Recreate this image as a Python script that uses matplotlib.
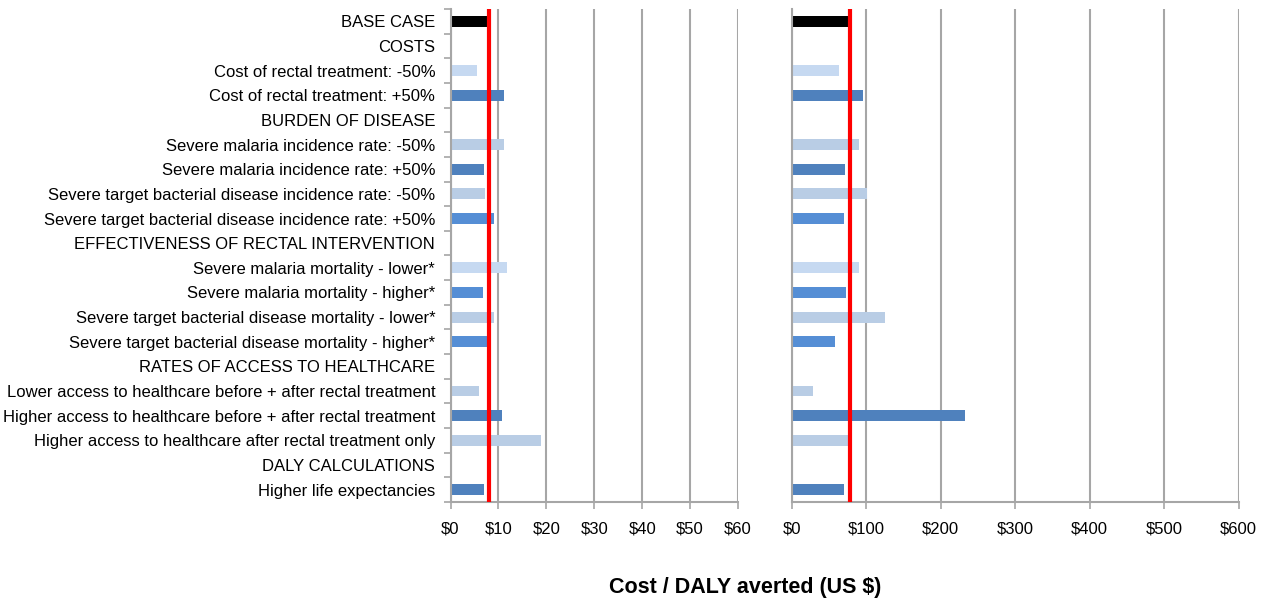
import numpy as np
import matplotlib.pyplot as plt

plt.rcParams['font.family'] = ['Liberation Sans', 'DejaVu Sans']

# 行标签（从上到下）
labels = [
    "BASE CASE",
    "COSTS",
    "Cost of rectal treatment: -50%",
    "Cost of rectal treatment: +50%",
    "BURDEN OF DISEASE",
    "Severe malaria incidence rate: -50%",
    "Severe malaria incidence rate: +50%",
    "Severe target bacterial disease incidence rate: -50%",
    "Severe target bacterial disease incidence rate: +50%",
    "EFFECTIVENESS OF RECTAL INTERVENTION",
    "Severe malaria mortality - lower*",
    "Severe malaria mortality - higher*",
    "Severe target bacterial disease mortality - lower*",
    "Severe target bacterial disease mortality - higher*",
    "RATES OF ACCESS TO HEALTHCARE",
    "Lower access to healthcare before + after rectal treatment",
    "Higher access to healthcare before + after rectal treatment",
    "Higher access to healthcare after rectal treatment only",
    "DALY CALCULATIONS",
    "Higher life expectancies",
]

# 左图与右图的数值（None 表示标题行，无柱）
left_vals = [8.1, None, 5.5, 11.2, None, 11.2, 6.9, 7.1, 9.1, None,
             11.7, 6.8, 9.1, 7.6, None, 6.0, 10.8, 18.9, None, 6.9]
right_vals = [78, None, 63, 96, None, 90, 71, 101, 70, None,
              91, 72.5, 125, 58, None, 28, 232, 77, None, 70.5]

base_left = 8.1
base_right = 78

# 颜色
c_black = "#000000"
c_pale = "#c6d9f1"
c_grey = "#b9cde5"
c_dark = "#4f81bd"
c_mid = "#558ed5"
colors = [c_black, None, c_pale, c_dark, None, c_grey, c_dark, c_grey, c_mid, None,
          c_pale, c_mid, c_grey, c_mid, None, c_grey, c_dark, c_grey, None, c_dark]

left_ticks = [0, 10, 20, 30, 40, 50, 60]
right_ticks = [0, 100, 200, 300, 400, 500, 600]

fig = plt.figure(figsize=(12.64, 5.99), dpi=100)
ax1 = fig.add_axes([450.5 / 1264, 97 / 599, 287.5 / 1264, 493 / 599])
ax2 = fig.add_axes([791.7 / 1264, 97 / 599, 447 / 1264, 493 / 599])

grid_c = "#a6a6a6"
n = len(labels)
y = np.arange(n)


def draw(ax, vals, ticks, base):
    for i, v in enumerate(vals):
        if v is None:
            continue
        ax.barh(y[i], v, height=0.44, color=colors[i], zorder=2)
    ax.set_xlim(ticks[0], ticks[-1])
    ax.set_ylim(n - 0.5, -0.5)
    ax.set_xticks(ticks)
    ax.set_xticklabels(["$%d" % t for t in ticks], fontsize=12)
    ax.xaxis.grid(True, color=grid_c, linewidth=1.5, zorder=0)
    ax.set_axisbelow(True)
    ax.axvline(base, color="#ff0000", linewidth=3, zorder=3)
    for s in ["top", "right"]:
        ax.spines[s].set_visible(False)
    for s in ["left", "bottom"]:
        ax.spines[s].set_color(grid_c)
        ax.spines[s].set_linewidth(1.5)
    ax.tick_params(axis="x", color=grid_c, length=5, width=1.2, pad=9)


draw(ax1, left_vals, left_ticks, base_left)
draw(ax2, right_vals, right_ticks, base_right)

# 左图：分隔刻度 + 行标签
ax1.set_yticks(np.arange(-0.5, n, 1.0))
ax1.set_yticklabels([])
ax1.tick_params(axis="y", which="major", color=grid_c, length=5, width=1.2)
ax1.set_yticks(y, minor=True)
ax1.set_yticklabels(labels, minor=True, fontsize=12)
ax1.tick_params(axis="y", which="minor", length=0, pad=11)

ax2.set_yticks([])

fig.text(745 / 1264, 1 - 587 / 599, "Cost / DALY averted (US $)",
         ha="center", va="center", fontsize=15.5, fontweight="bold")

fig.savefig("out.png", dpi=100)
